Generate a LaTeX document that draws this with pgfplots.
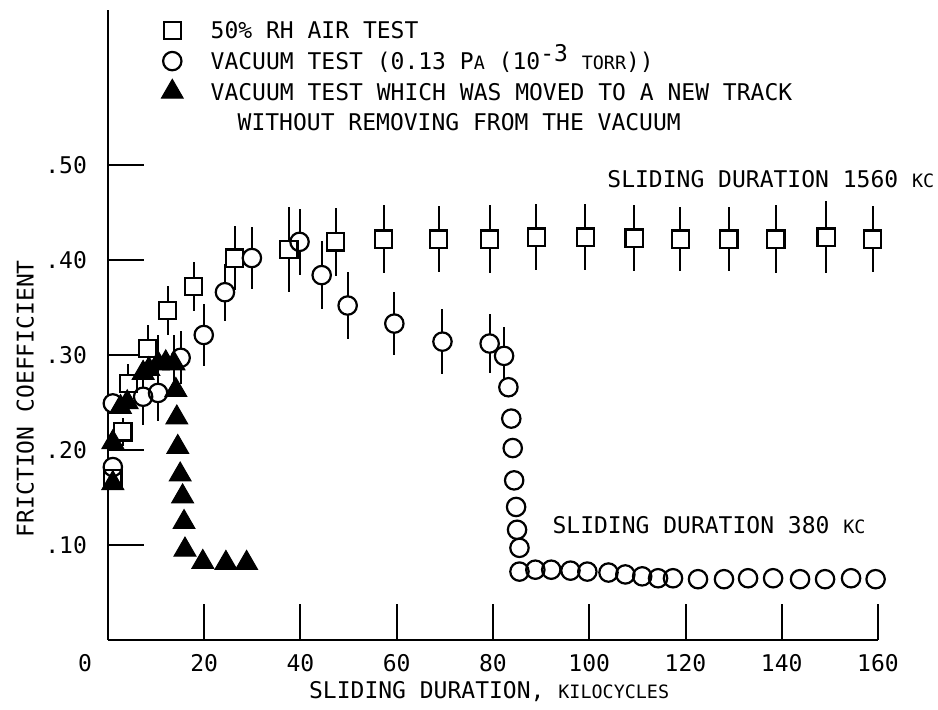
\documentclass[border=0pt]{standalone}
\usepackage{fontspec}
\setmainfont{DejaVu Sans Mono}
\usepackage{pgfplots}
\usepackage{pgfplotstable}
\pgfplotsset{compat=1.18}
\newcommand\sm[1]{{\fontsize{9.2}{10}\selectfont #1}}

% 50% RH air test
\pgfplotstableread{
x y e
1.0 0.170 0.010
3.1 0.219 0.015
4.2 0.270 0.020
8.3 0.307 0.025
12.4 0.347 0.026
17.8 0.372 0.026
26.3 0.402 0.034
37.6 0.411 0.045
47.3 0.419 0.036
57.3 0.422 0.036
68.7 0.422 0.035
79.3 0.422 0.036
89.0 0.424 0.035
99.2 0.424 0.035
109.3 0.423 0.035
118.9 0.422 0.034
129.0 0.422 0.034
138.8 0.422 0.036
149.2 0.424 0.038
158.9 0.422 0.035
}\airdata

% vacuum test
\pgfplotstableread{
x y e
1.0 0.249 0
1.0 0.182 0
7.3 0.256 0.030
10.4 0.260 0.030
15.1 0.297 0.028
19.9 0.321 0.033
24.3 0.366 0.030
29.9 0.402 0.033
39.8 0.419 0.035
44.4 0.384 0.036
49.8 0.352 0.035
59.5 0.333 0.033
69.5 0.314 0.034
79.3 0.312 0.031
82.3 0.299 0.030
83.2 0.266 0
83.8 0.233 0
84.1 0.202 0
84.4 0.168 0
84.8 0.140 0
85.0 0.116 0
85.5 0.097 0
85.5 0.072 0
88.8 0.074 0
92.1 0.074 0
96.1 0.073 0
99.6 0.072 0
104.0 0.071 0
107.5 0.069 0
111.0 0.067 0
114.3 0.065 0
117.4 0.065 0
122.6 0.064 0
128.0 0.064 0
133.0 0.065 0
138.2 0.065 0
143.8 0.064 0
149.0 0.064 0
154.4 0.065 0
159.5 0.064 0
}\vacdata

% vacuum test, moved to a new track
\pgfplotstableread{
x y e
1.0 0.165 0
1.0 0.208 0
2.6 0.245 0
4.0 0.250 0
7.3 0.281 0
8.5 0.285 0
10.4 0.291 0.030
12.0 0.292 0
13.7 0.291 0.030
14.1 0.263 0
14.3 0.234 0
14.5 0.203 0
15.0 0.174 0
15.5 0.151 0
15.8 0.124 0
16.0 0.095 0
19.7 0.082 0
24.5 0.081 0
28.8 0.081 0
}\trackdata

\begin{document}
\fontsize{11.5}{13}\selectfont
\begin{tikzpicture}
\begin{axis}[
  name=ax,
  scale only axis, width=385pt, height=315pt,
  xmin=0, xmax=160, ymin=0, ymax=0.663,
  axis lines*=left,
  axis line style={line width=1.3pt, black},
  tick align=inside, major tick length=18pt,
  tick style={line width=1pt, black},
  xtick={20,40,...,160},
  xticklabels={20,40,60,80,100,120,140,160},
  ytick={0.1,0.2,0.3,0.4,0.5},
  yticklabels={.10,.20,.30,.40,.50},
  extra x ticks={0}, extra x tick labels={0},
  extra x tick style={major tick length=0pt, xticklabel style={xshift=-11.5pt}},
  xticklabel style={yshift=-3.3pt},
  yticklabel style={xshift=-6.5pt},
  /pgf/number format/assume math mode=true,
  xlabel={SLIDING DURATION, \sm{KILOCYCLES}},
  xlabel style={at={(rel axis cs:0.495,0)}, anchor=center, yshift=-26pt},
  ylabel={FRICTION COEFFICIENT},
  ylabel style={at={(axis cs:-17.2,0.254)}, anchor=center},
  clip=false,
  legend style={at={(axis cs:11.2,0.651)}, anchor=north west, draw=none, fill=none,
    inner sep=0pt, outer sep=0pt, row sep=6.5pt, column sep=14pt,
    nodes={inner sep=0pt, outer sep=0pt, text height=8.5pt, text depth=0pt, anchor=west}},
  legend cell align=left,
  legend image code/.code={\path (-5pt,-4.25pt) (5pt,4.25pt);
    \draw[#1, overlay] plot coordinates {(0pt,0pt)};},
  error bars/error bar style={line width=1pt, black, solid},
]
% error bars
\addplot[forget plot, only marks, mark=none, error bars/.cd, y dir=both, y explicit, error mark=none]
  table[x=x, y=y, y error=e] {\airdata};
\addplot[forget plot, only marks, mark=none, error bars/.cd, y dir=both, y explicit, error mark=none]
  table[x=x, y=y, y error=e] {\vacdata};
\addplot[forget plot, only marks, mark=none, error bars/.cd, y dir=both, y explicit, error mark=none]
  table[x=x, y=y, y error=e] {\trackdata};
% white fills
\addplot[forget plot, only marks, mark=square*, mark size=4.3pt, mark options={draw=none, fill=white}]
  table[x=x, y=y] {\airdata};
\addplot[forget plot, only marks, mark=*, mark size=4.6pt, mark options={draw=none, fill=white}]
  table[x=x, y=y] {\vacdata};
% outlines
\addplot[only marks, mark=square, mark size=4.3pt, mark options={line width=1.1pt, black}]
  table[x=x, y=y] {\airdata};
\addlegendentry{50\% RH AIR TEST}
\addplot[only marks, mark=o, mark size=4.6pt, mark options={line width=1.1pt, black}]
  table[x=x, y=y] {\vacdata};
\addlegendentry{VACUUM TEST (0.13 P\sm{A} (10\raisebox{4pt}{-3} \sm{TORR}))}
\addplot[only marks, mark=triangle*, mark size=6.3pt, mark options={fill=black, draw=black, line width=0.5pt}]
  table[x=x, y=y] {\trackdata};
\addlegendentry{VACUUM TEST WHICH WAS MOVED TO A NEW TRACK}
\addlegendimage{empty legend}
\addlegendentry{\hspace{13.5pt}WITHOUT REMOVING FROM THE VACUUM}

\node[anchor=base west, inner sep=0pt] at (axis cs:103.7,0.476) {SLIDING DURATION 1560 \sm{KC}};
\node[anchor=base west, inner sep=0pt] at (axis cs:92.3,0.1116) {SLIDING DURATION 380 \sm{KC}};
\end{axis}
\pgfresetboundingbox
\path ([shift={(-54pt,-34.5pt)}]ax.south west) rectangle ([shift={(415pt,320pt)}]ax.south west);
\end{tikzpicture}
\end{document}
